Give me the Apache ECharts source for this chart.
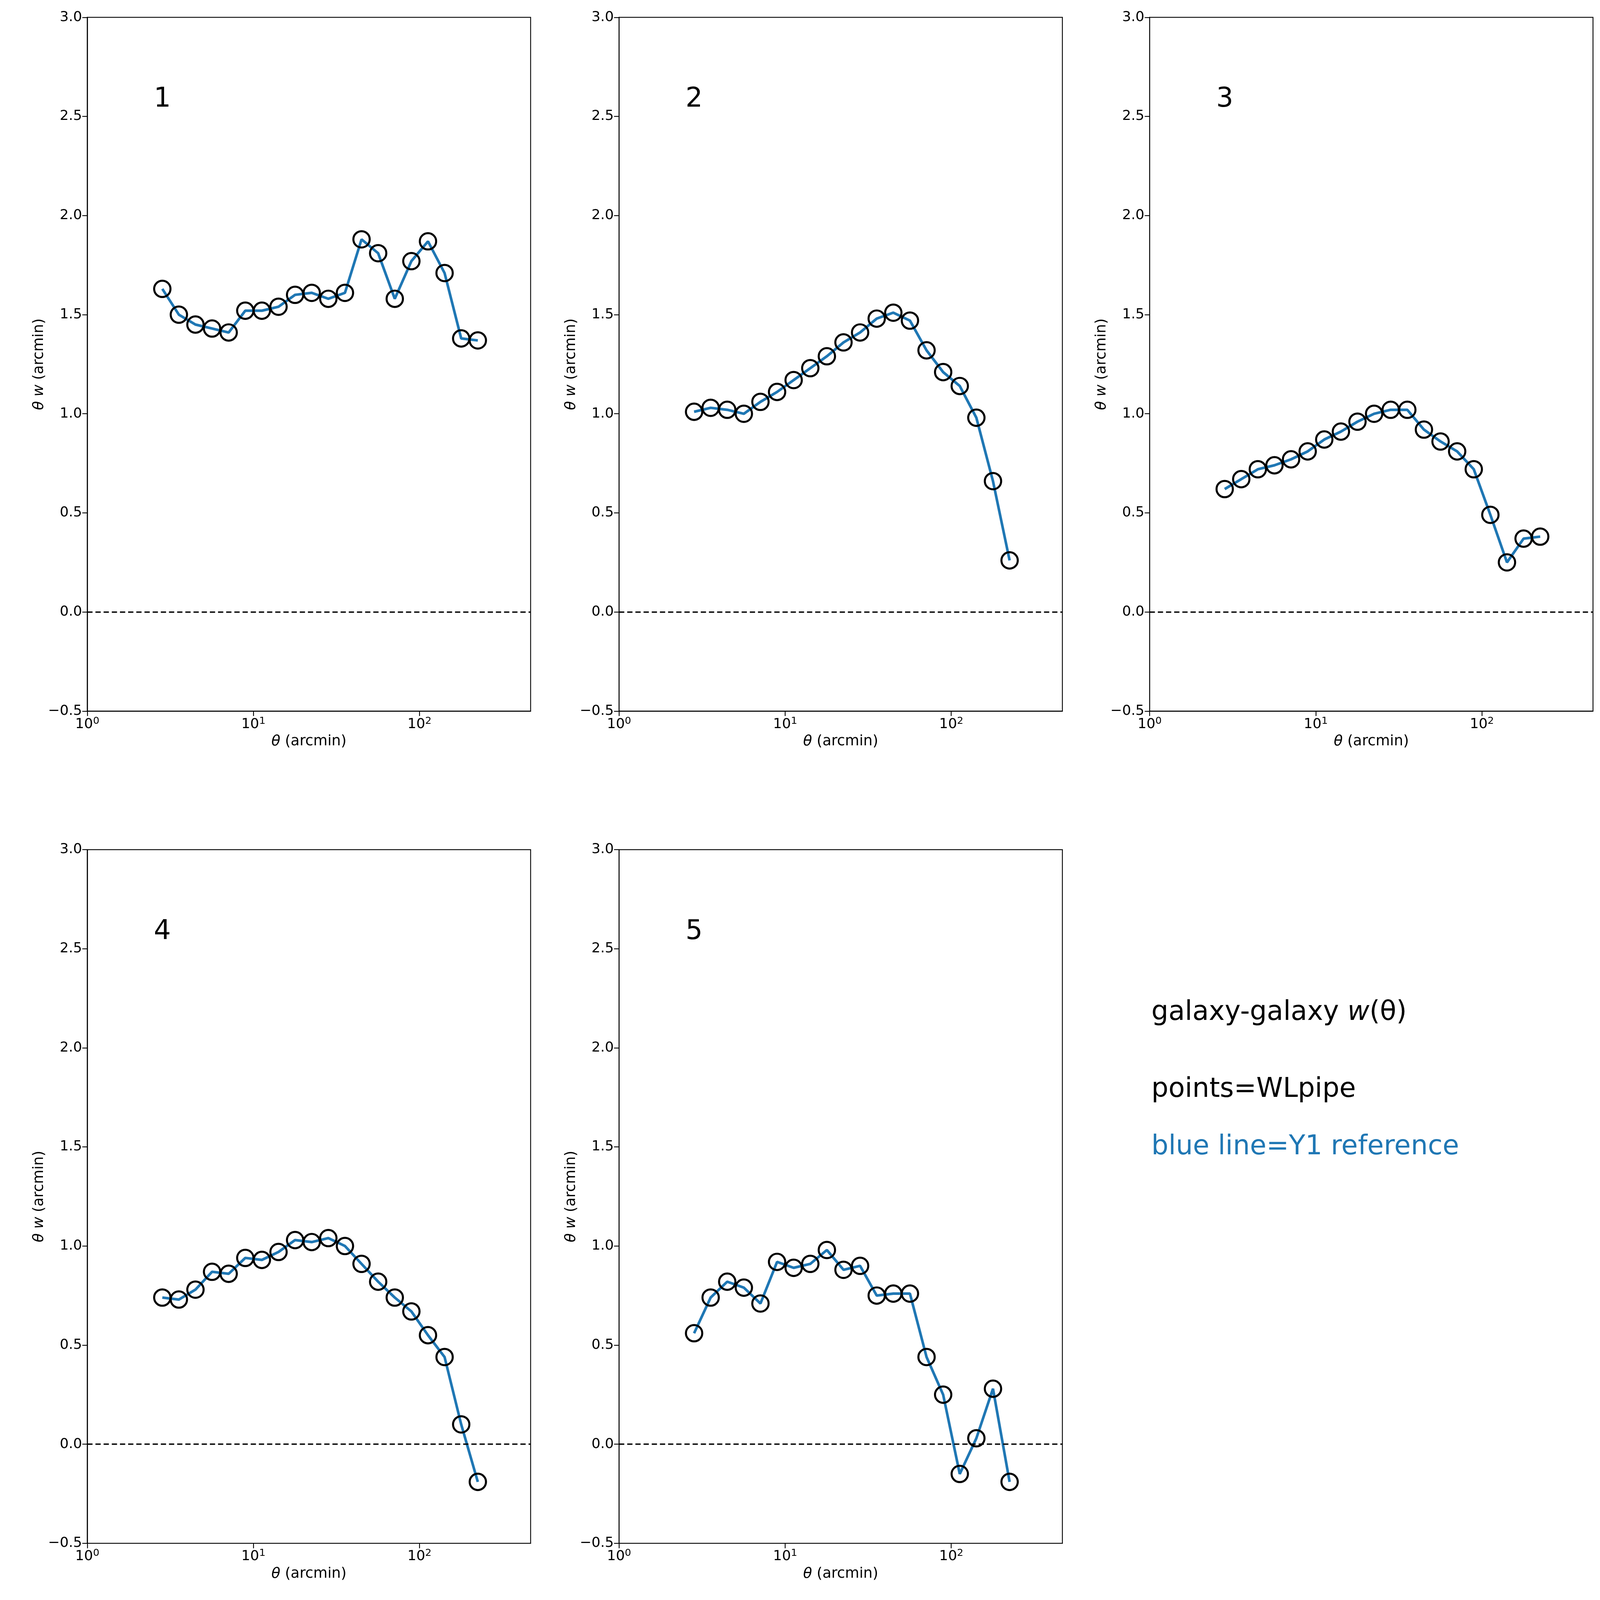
<!DOCTYPE html>
<html>
<head>
<meta charset="utf-8">
<script src="https://cdn.jsdelivr.net/npm/echarts@6/dist/echarts.min.js"></script>
<style>
  html, body { margin: 0; padding: 0; background: #fff; overflow: hidden; }
  #chart { width: 100vw; height: 100vh; }
</style>
</head>
<body>
<div id="chart"></div>
<script>
// angular bins (arcmin)
const theta = [2.83, 3.56, 4.48, 5.64, 7.10, 8.94, 11.25, 14.17, 17.83, 22.45,
  28.26, 35.58, 44.79, 56.39, 70.99, 89.37, 112.5, 141.6, 178.3, 224.5];

const bin1 = [1.63, 1.50, 1.45, 1.43, 1.41, 1.52, 1.52, 1.54, 1.60, 1.61,
  1.58, 1.61, 1.88, 1.81, 1.58, 1.77, 1.87, 1.71, 1.38, 1.37];
const bin2 = [1.01, 1.03, 1.02, 1.00, 1.06, 1.11, 1.17, 1.23, 1.29, 1.36,
  1.41, 1.48, 1.51, 1.47, 1.32, 1.21, 1.14, 0.98, 0.66, 0.26];
const bin3 = [0.62, 0.67, 0.72, 0.74, 0.77, 0.81, 0.87, 0.91, 0.96, 1.00,
  1.02, 1.02, 0.92, 0.86, 0.81, 0.72, 0.49, 0.25, 0.37, 0.38];
const bin4 = [0.74, 0.73, 0.78, 0.87, 0.86, 0.94, 0.93, 0.97, 1.03, 1.02,
  1.04, 1.00, 0.91, 0.82, 0.74, 0.67, 0.55, 0.44, 0.10, -0.19];
const bin5 = [0.56, 0.74, 0.82, 0.79, 0.71, 0.92, 0.89, 0.91, 0.98, 0.88,
  0.90, 0.75, 0.76, 0.76, 0.44, 0.25, -0.15, 0.03, 0.28, -0.19];

const bins = [bin1, bin2, bin3, bin4, bin5];
const binLabels = ['1', '2', '3', '4', '5'];

const FONT = 'DejaVu Sans';
const blue = '#1f77b4';

// everything laid out for 5482 px width, scaled to the real viewport
const s = window.innerWidth / 5482;
const sy = window.innerHeight / 4883;
const px = v => v * s;

const lefts = [299, 2121, 3939];
const tops = [53, 2593];
const W = 1519, H = 2117;
const xMaxLog = 2.669; // log10 of right edge (~466 arcmin)

let grids = [], xAxes = [], yAxes = [], series = [], graphics = [];

bins.forEach(function (vals, i) {
  const col = i % 3, row = Math.floor(i / 3);
  grids.push({
    left: lefts[col] * s, top: tops[row] * sy, width: W * s, height: H * sy,
    show: true, borderColor: '#000', borderWidth: px(3), backgroundColor: 'transparent'
  });
  xAxes.push({
    type: 'value', min: 0, max: xMaxLog, interval: 1, gridIndex: i,
    name: '{i|θ} (arcmin)', nameLocation: 'middle', nameGap: px(80),
    nameTextStyle: { fontFamily: FONT, fontSize: px(50), color: '#000',
      rich: { i: { fontFamily: FONT, fontStyle: 'italic', fontSize: px(50) } } },
    axisLine: { show: true, onZero: false, lineStyle: { color: '#000', width: px(3) } },
    axisTick: { show: true, inside: false, length: px(17), lineStyle: { color: '#000', width: px(3) } },
    splitLine: { show: false },
    axisLabel: {
      fontFamily: FONT, fontSize: px(48), color: '#000', margin: px(18),
      showMaxLabel: false,
      formatter: function (v) {
        if (Math.abs(v - Math.round(v)) > 1e-6) return '';
        return '{b|10}{s|' + Math.round(v) + '}';
      },
      rich: {
        b: { fontFamily: FONT, fontSize: px(48), color: '#000' },
        s: { fontFamily: FONT, fontSize: px(34), color: '#000', verticalAlign: 'top', padding: [0, 0, px(22), 0] }
      }
    }
  });
  yAxes.push({
    type: 'value', min: -0.5, max: 3, interval: 0.5, gridIndex: i,
    name: '{i|θ w} (arcmin)', nameLocation: 'middle', nameGap: px(135), nameRotate: 90,
    nameTextStyle: { fontFamily: FONT, fontSize: px(50), color: '#000',
      rich: { i: { fontFamily: FONT, fontStyle: 'italic', fontSize: px(50) } } },
    axisLine: { show: true, lineStyle: { color: '#000', width: px(3) } },
    axisTick: { show: true, inside: false, length: px(17), lineStyle: { color: '#000', width: px(3) } },
    splitLine: { show: false },
    axisLabel: {
      fontFamily: FONT, fontSize: px(48), color: '#000', margin: px(18),
      formatter: function (v) { return v.toFixed(1).replace('-', '\u2212'); }
    }
  });
  const pts = theta.map(function (t, k) { return [Math.log10(t), vals[k]]; });
  series.push({
    type: 'line', xAxisIndex: i, yAxisIndex: i, data: pts,
    showSymbol: false, lineStyle: { color: blue, width: px(9) }, z: 2,
    markLine: {
      silent: true, symbol: 'none', label: { show: false },
      lineStyle: { color: '#000', type: [px(18), px(10)], width: px(5) },
      data: [{ yAxis: 0 }]
    }
  });
  series.push({
    type: 'scatter', xAxisIndex: i, yAxisIndex: i, data: pts,
    symbol: 'circle', symbolSize: px(56), z: 3,
    itemStyle: { color: 'rgba(0,0,0,0)', borderColor: '#000', borderWidth: px(7), opacity: 1 }
  });
  graphics.push({
    type: 'text', left: (lefts[col] + 228) * s, top: (tops[row] + 210) * sy,
    style: { text: binLabels[i], font: px(92) + 'px "DejaVu Sans"', fill: '#000' }
  });
});

const f = px(92) + 'px "DejaVu Sans"';
graphics.push(
  { type: 'text', left: 3945 * s, top: 3050 * sy,
    style: { rich: { i: { font: 'italic ' + f, fill: '#000' } },
      text: 'galaxy-galaxy {i|w}(θ)', font: f, fill: '#000' } },
  { type: 'text', left: 3945 * s, top: 3285 * sy,
    style: { text: 'points=WLpipe', font: f, fill: '#000' } },
  { type: 'text', left: 3945 * s, top: 3460 * sy,
    style: { text: 'blue line=Y1 reference', font: f, fill: blue } }
);

const chart = echarts.init(document.getElementById('chart'));
chart.setOption({
  backgroundColor: '#fff',
  animation: false,
  grid: grids,
  xAxis: xAxes,
  yAxis: yAxes,
  series: series,
  graphic: graphics
});
</script>
</body>
</html>
